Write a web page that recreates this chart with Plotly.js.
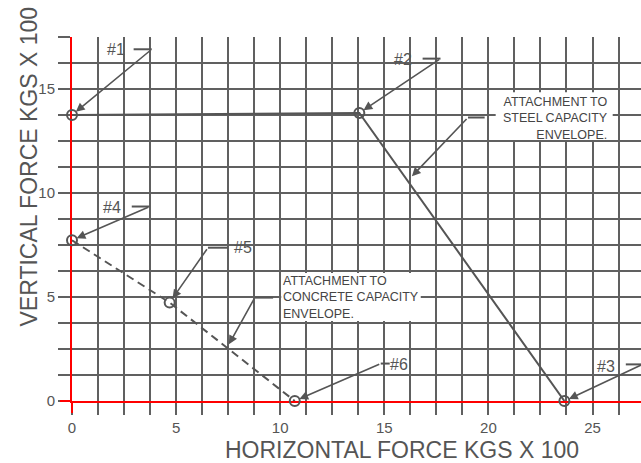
<!DOCTYPE html>
<html>
<head>
<meta charset="utf-8">
<script src="https://cdn.plot.ly/plotly-3.0.1.min.js"></script>
<style>
html, body { margin: 0; padding: 0; overflow: hidden; background: #fff; }
#chart { width: 641px; height: 463px; }
</style>
</head>
<body>
<div id="chart"></div>
<script>
// ---- data ----
const steelX = [0, 13.8, 23.65];
const steelY = [13.75, 13.85, 0];
const steelLabels = ['#1', '#2', '#3'];

const concreteX = [0, 4.69, 10.7];
const concreteY = [7.73, 4.73, 0];
const concreteLabels = ['#4', '#5', '#6'];

const xTitle = 'HORIZONTAL FORCE KGS X 100';
const yTitle = 'VERTICAL FORCE KGS X 100';
const steelNote = 'ATTACHMENT TO<br>STEEL CAPACITY<br>ENVELOPE.';
const concreteNote = 'ATTACHMENT TO<br>CONCRETE CAPACITY<br>ENVELOPE.';

// ---- styling / layout helpers ----
const INK = '#555555';
const GRID = '#606060';
const FONT = 'Liberation Sans, Arial, sans-serif';
const W = 641, H = 463;
const M = {l: 72, r: 0, t: 37, b: 62};
const plotW = W - M.l - M.r, plotH = H - M.t - M.b;
const TICKLEN = 12;

// label callouts: [label text pos, leader segment, arrow tail]
const steelCallouts = [
  {tx: 2.1,  ty: 16.88, seg: [2.96, 3.83, 16.91], tail: [3.83, 16.91]},
  {tx: 15.88, ty: 16.44, seg: [16.84, 17.7, 16.46], tail: [17.7, 16.46]},
  {tx: 25.66, ty: 1.68, seg: [26.6, 27.41, 1.76], tail: [27.41, 1.76]}
];
const concreteCallouts = [
  {tx: 1.91, ty: 9.3, seg: [2.87, 3.73, 9.35], tail: [3.73, 9.35]},
  {tx: 8.21, ty: 7.38, seg: [6.53, 7.48, 7.37], tail: [6.53, 7.37]},
  {tx: 15.69, ty: 1.74, seg: [14.83, 15.26, 1.8], tail: [14.83, 1.8]}
];

const traces = [
  {
    x: steelX, y: steelY, type: 'scatter', mode: 'lines+markers', cliponaxis: false,
    line: {color: INK, width: 2},
    marker: {symbol: 'circle-open', size: 10, color: INK, line: {width: 2, color: INK}},
    hoverinfo: 'skip', showlegend: false
  },
  {
    x: concreteX, y: concreteY, type: 'scatter', mode: 'lines+markers', cliponaxis: false,
    line: {color: INK, width: 2, dash: '8px,5px'},
    marker: {symbol: 'circle-open', size: 10, color: INK, line: {width: 2, color: INK}},
    hoverinfo: 'skip', showlegend: false
  }
];

const shapes = [];
const annotations = [];

function lineShape(x0, x1, y) {
  shapes.push({type: 'line', xref: 'x', yref: 'y', x0: x0, x1: x1, y0: y, y1: y,
    line: {color: INK, width: 2}, layer: 'above'});
}
function arrow(tail, hx, hy, standoff) {
  annotations.push({x: hx, y: hy, xref: 'x', yref: 'y', ax: tail[0], ay: tail[1],
    axref: 'x', ayref: 'y', text: '', showarrow: true, arrowhead: 2, arrowsize: 1.1,
    arrowwidth: 1.6, arrowcolor: INK, standoff: standoff});
}
function label(t, x, y) {
  annotations.push({x: x, y: y, xref: 'x', yref: 'y', text: t, showarrow: false,
    font: {family: FONT, size: 16, color: INK}, xanchor: 'center', yanchor: 'middle'});
}

steelCallouts.forEach((c, i) => {
  lineShape(c.seg[0], c.seg[1], c.seg[2]);
  arrow(c.tail, steelX[i], steelY[i], 5);
  label(steelLabels[i], c.tx, c.ty);
});
concreteCallouts.forEach((c, i) => {
  lineShape(c.seg[0], c.seg[1], c.seg[2]);
  arrow(c.tail, concreteX[i], concreteY[i], 5);
  label(concreteLabels[i], c.tx, c.ty);
});

// note boxes (white background covering the grid)
shapes.push({type: 'rect', xref: 'x', yref: 'y', x0: 10.05, x1: 16.75, y0: 3.85, y1: 6.15,
  fillcolor: '#ffffff', line: {width: 0}, layer: 'above'});
shapes.push({type: 'rect', xref: 'x', yref: 'y', x0: 20.35, x1: 25.97, y0: 12.55, y1: 14.84,
  fillcolor: '#ffffff', line: {width: 0}, layer: 'above'});

annotations.push({x: 10.13, y: 4.97, xref: 'x', yref: 'y', text: concreteNote, showarrow: false,
  align: 'left', xanchor: 'left', yanchor: 'middle', borderpad: 0, borderwidth: 0,
  font: {family: FONT, size: 12.5, color: '#444'}});
annotations.push({x: 25.74, y: 13.6, xref: 'x', yref: 'y', text: steelNote, showarrow: false,
  align: 'right', xanchor: 'right', yanchor: 'middle', borderpad: 0, borderwidth: 0,
  font: {family: FONT, size: 12.5, color: '#444'}});

// note leaders
lineShape(8.78, 9.66, 4.97);
arrow([8.78, 4.97], 7.49, 2.64, 2);
lineShape(19.02, 19.82, 13.63);
arrow([19.02, 13.63], 16.16, 10.63, 5);

// red zero-line extensions through the tick area
shapes.push({type: 'line', xref: 'paper', yref: 'paper', x0: 0, x1: 0,
  y0: -TICKLEN / plotH, y1: 0, line: {color: '#ff0000', width: 2}, layer: 'above'});
shapes.push({type: 'line', xref: 'paper', yref: 'paper', x0: -TICKLEN / plotW, x1: 0,
  y0: 0, y1: 0, line: {color: '#ff0000', width: 2}, layer: 'above'});

// axis titles
annotations.push({xref: 'paper', yref: 'paper', x: (401.5 - M.l) / plotW, y: (M.t + plotH - 450) / plotH,
  text: xTitle, showarrow: false, xanchor: 'center', yanchor: 'middle',
  font: {family: FONT, size: 23, color: INK}});
annotations.push({xref: 'paper', yref: 'paper', x: (29 - M.l) / plotW, y: (M.t + plotH - 166.5) / plotH,
  text: yTitle, showarrow: false, xanchor: 'center', yanchor: 'middle', textangle: -90,
  font: {family: FONT, size: 23, color: INK}});

const axisCommon = {
  tick0: 0, dtick: 5, ticks: 'outside', ticklen: TICKLEN, tickwidth: 2, tickcolor: GRID,
  showgrid: true, gridcolor: GRID, gridwidth: 2,
  zeroline: false, showline: true, linecolor: '#ff0000', linewidth: 2,
  layer: 'below traces',
  tickfont: {family: FONT, size: 15, color: INK},
  minor: {dtick: 1.25, ticks: 'outside', ticklen: TICKLEN, tickwidth: 2, tickcolor: GRID,
    showgrid: true, gridcolor: GRID, gridwidth: 2},
  fixedrange: true
};

const layout = {
  width: W, height: H,
  margin: M,
  paper_bgcolor: '#ffffff', plot_bgcolor: '#ffffff',
  xaxis: Object.assign({}, axisCommon, {range: [0, plotW / 20.82]}),
  yaxis: Object.assign({}, axisCommon, {range: [0, 17.5]}),
  shapes: shapes,
  annotations: annotations,
  showlegend: false
};

Plotly.newPlot('chart', traces, layout, {displayModeBar: false, staticPlot: true});
</script>
</body>
</html>
